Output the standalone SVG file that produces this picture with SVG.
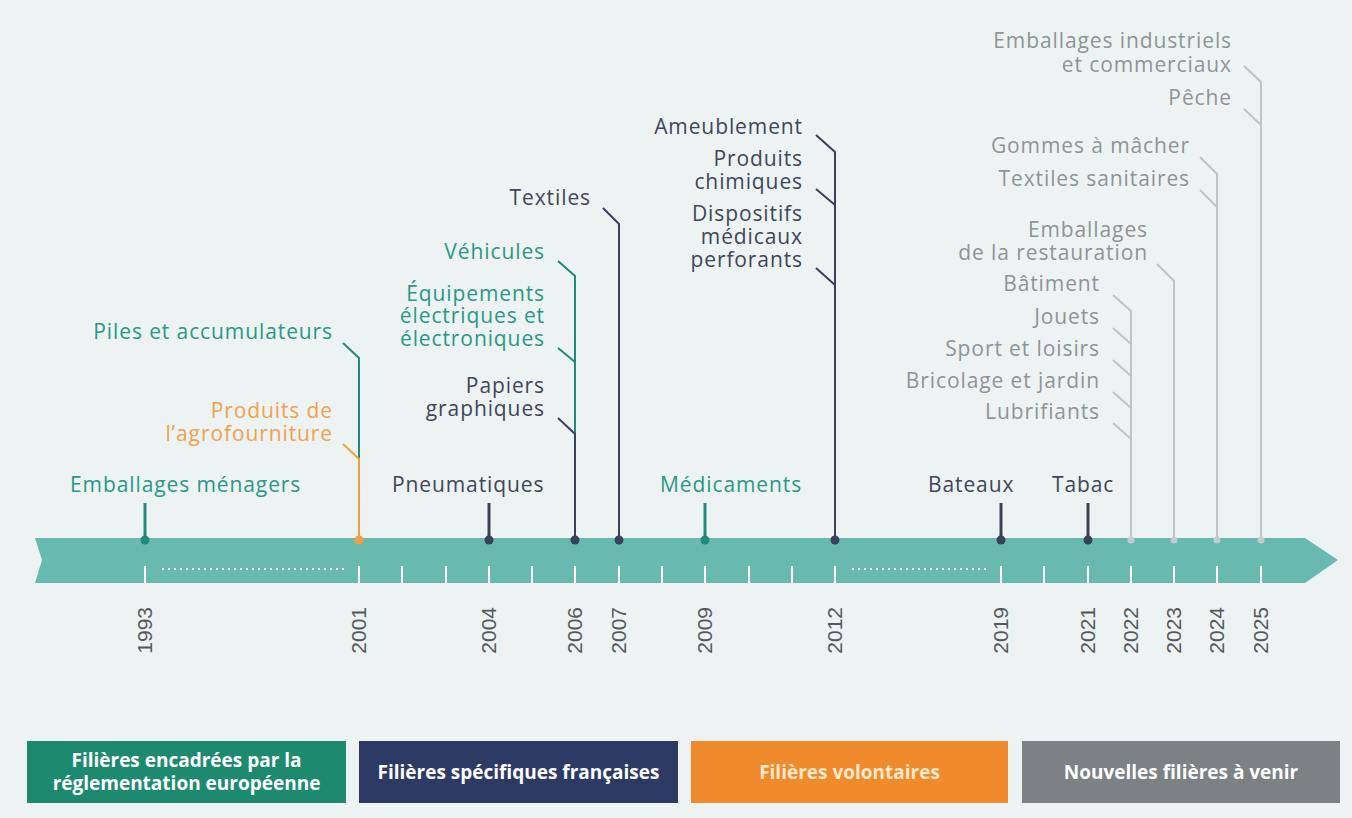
<svg xmlns="http://www.w3.org/2000/svg" width="1352" height="818" viewBox="0 0 1352 818">
<style>
.lbl{font-family:"Open Sans","Noto Sans",sans-serif;font-size:21px;font-weight:500;letter-spacing:0.9px}
.teal{fill:#2a9886}
.navy{fill:#3f4659}
.orng{fill:#f0a24e}
.grey{fill:#8e9497}
.e{text-anchor:end}
.yr{font-family:"Liberation Sans",Arial,sans-serif;font-size:21px;fill:#55595c;text-anchor:end}
.lt{stroke:#1f8b78;stroke-width:2;fill:none}
.ln{stroke:#3a4257;stroke-width:2;fill:none}
.lo{stroke:#f0a040;stroke-width:2;fill:none}
.lg{stroke:#bfc3c5;stroke-width:2;fill:none}
.pin{stroke-width:3}
.tick{stroke:#ffffff;stroke-width:2}
.dots{stroke:#ffffff;stroke-width:2;stroke-dasharray:2 4}
.leg{font-family:"Open Sans","Noto Sans",sans-serif;font-size:19px;font-weight:bold;fill:#ffffff;text-anchor:middle}
</style>
<rect x="0" y="0" width="1352" height="818" fill="#edf3f2"/>

<g id="axis">
<polygon points="35,538 1305,538 1338,560 1305,583 35,583 42,560" fill="#68b9ae"/>
<g>
<line class="tick" x1="145" y1="566" x2="145" y2="583"/>
<line class="tick" x1="359" y1="566" x2="359" y2="583"/>
<line class="tick" x1="402" y1="566" x2="402" y2="583"/>
<line class="tick" x1="446" y1="566" x2="446" y2="583"/>
<line class="tick" x1="489" y1="566" x2="489" y2="583"/>
<line class="tick" x1="532" y1="566" x2="532" y2="583"/>
<line class="tick" x1="575" y1="566" x2="575" y2="583"/>
<line class="tick" x1="619" y1="566" x2="619" y2="583"/>
<line class="tick" x1="662" y1="566" x2="662" y2="583"/>
<line class="tick" x1="705" y1="566" x2="705" y2="583"/>
<line class="tick" x1="749" y1="566" x2="749" y2="583"/>
<line class="tick" x1="792" y1="566" x2="792" y2="583"/>
<line class="tick" x1="835" y1="566" x2="835" y2="583"/>
<line class="tick" x1="1001" y1="566" x2="1001" y2="583"/>
<line class="tick" x1="1044" y1="566" x2="1044" y2="583"/>
<line class="tick" x1="1088" y1="566" x2="1088" y2="583"/>
<line class="tick" x1="1131" y1="566" x2="1131" y2="583"/>
<line class="tick" x1="1174" y1="566" x2="1174" y2="583"/>
<line class="tick" x1="1217" y1="566" x2="1217" y2="583"/>
<line class="tick" x1="1261" y1="566" x2="1261" y2="583"/>
<line class="dots" x1="162" y1="569" x2="346" y2="569"/>
<line class="dots" x1="852" y1="569" x2="986" y2="569"/>
</g>
<g>
<text class="yr" x="152" y="607" transform="rotate(-90 152 607)">1993</text>
<text class="yr" x="366" y="607" transform="rotate(-90 366 607)">2001</text>
<text class="yr" x="496" y="607" transform="rotate(-90 496 607)">2004</text>
<text class="yr" x="582" y="607" transform="rotate(-90 582 607)">2006</text>
<text class="yr" x="626" y="607" transform="rotate(-90 626 607)">2007</text>
<text class="yr" x="712" y="607" transform="rotate(-90 712 607)">2009</text>
<text class="yr" x="842" y="607" transform="rotate(-90 842 607)">2012</text>
<text class="yr" x="1008" y="607" transform="rotate(-90 1008 607)">2019</text>
<text class="yr" x="1095" y="607" transform="rotate(-90 1095 607)">2021</text>
<text class="yr" x="1138" y="607" transform="rotate(-90 1138 607)">2022</text>
<text class="yr" x="1181" y="607" transform="rotate(-90 1181 607)">2023</text>
<text class="yr" x="1224" y="607" transform="rotate(-90 1224 607)">2024</text>
<text class="yr" x="1268" y="607" transform="rotate(-90 1268 607)">2025</text>
</g>
</g>

<g id="connectors">
<!-- 1993 -->
<line class="lt pin" x1="145" y1="503" x2="145" y2="540"/>
<circle cx="145" cy="540" r="4.5" fill="#1f8b78"/>
<!-- 2001 -->
<polyline class="lt" points="343,343 359,358 359,459"/>
<polyline class="lo" points="343,444 359,459 359,540"/>
<circle cx="359" cy="540" r="4.5" fill="#f0a040"/>
<!-- 2004 -->
<line class="ln pin" x1="489" y1="503" x2="489" y2="540"/>
<circle cx="489" cy="540" r="4.5" fill="#3a4257"/>
<!-- 2006 -->
<polyline class="lt" points="558,261 575,276 575,434"/>
<line class="lt" x1="558" y1="348" x2="575" y2="362"/>
<polyline class="ln" points="558,418 575,434 575,540"/>
<circle cx="575" cy="540" r="4.5" fill="#3a4257"/>
<!-- 2007 -->
<polyline class="ln" points="603,208 619,224 619,540"/>
<circle cx="619" cy="540" r="4.5" fill="#3a4257"/>
<!-- 2009 -->
<line class="lt pin" x1="705" y1="503" x2="705" y2="540"/>
<circle cx="705" cy="540" r="4.5" fill="#1f8b78"/>
<!-- 2012 -->
<polyline class="ln" points="816,135 835,152 835,540"/>
<line class="ln" x1="816" y1="189" x2="835" y2="205"/>
<line class="ln" x1="816" y1="268" x2="835" y2="285"/>
<circle cx="835" cy="540" r="4.5" fill="#3a4257"/>
<!-- 2019 -->
<line class="ln pin" x1="1001" y1="503" x2="1001" y2="540"/>
<circle cx="1001" cy="540" r="4.5" fill="#3a4257"/>
<!-- 2021 -->
<line class="ln pin" x1="1088" y1="503" x2="1088" y2="540"/>
<circle cx="1088" cy="540" r="4.5" fill="#3a4257"/>
<!-- 2022 -->
<polyline class="lg" points="1113,295 1131,311 1131,540"/>
<line class="lg" x1="1113" y1="328" x2="1131" y2="344"/>
<line class="lg" x1="1113" y1="360" x2="1131" y2="376"/>
<line class="lg" x1="1113" y1="392" x2="1131" y2="408"/>
<line class="lg" x1="1113" y1="423" x2="1131" y2="439"/>
<circle cx="1131" cy="540" r="3.5" fill="#c6cacc"/>
<!-- 2023 -->
<polyline class="lg" points="1157,264 1174,281 1174,540"/>
<circle cx="1174" cy="540" r="3.5" fill="#c6cacc"/>
<!-- 2024 -->
<polyline class="lg" points="1200,157 1217,174 1217,540"/>
<line class="lg" x1="1200" y1="190" x2="1217" y2="207"/>
<circle cx="1217" cy="540" r="3.5" fill="#c6cacc"/>
<!-- 2025 -->
<polyline class="lg" points="1244,66 1261,82 1261,540"/>
<line class="lg" x1="1244" y1="109" x2="1261" y2="125"/>
<circle cx="1261" cy="540" r="3.5" fill="#c6cacc"/>
</g>

<g id="n1993"><text class="lbl teal" x="70" y="492">Emballages ménagers</text></g>
<g id="n2001-piles"><text class="lbl teal e" x="333" y="339">Piles et accumulateurs</text></g>
<g id="n2001-agro"><text class="lbl orng e" x="333" y="418">Produits de</text><text class="lbl orng e" x="333" y="441">l’agrofourniture</text></g>
<g id="n2004"><text class="lbl navy" x="392" y="492">Pneumatiques</text></g>
<g id="n2006-vehicules"><text class="lbl teal e" x="545" y="259">Véhicules</text></g>
<g id="n2006-deee"><text class="lbl teal e" x="545" y="301">Équipements</text><text class="lbl teal e" x="545" y="323">électriques et</text><text class="lbl teal e" x="545" y="346">électroniques</text></g>
<g id="n2006-papiers"><text class="lbl navy e" x="545" y="393">Papiers</text><text class="lbl navy e" x="545" y="416">graphiques</text></g>
<g id="n2007"><text class="lbl navy e" x="591" y="205">Textiles</text></g>
<g id="n2009"><text class="lbl teal" x="660" y="492">Médicaments</text></g>
<g id="n2012-ameublement"><text class="lbl navy e" x="803" y="134">Ameublement</text></g>
<g id="n2012-chimiques"><text class="lbl navy e" x="803" y="166">Produits</text><text class="lbl navy e" x="803" y="189">chimiques</text></g>
<g id="n2012-dispositifs"><text class="lbl navy e" x="803" y="221">Dispositifs</text><text class="lbl navy e" x="803" y="244">médicaux</text><text class="lbl navy e" x="803" y="267">perforants</text></g>
<g id="n2019"><text class="lbl navy" x="928" y="492">Bateaux</text></g>
<g id="n2021"><text class="lbl navy" x="1052" y="492">Tabac</text></g>
<g id="n2025-emb"><text class="lbl grey e" x="1232" y="48">Emballages industriels</text><text class="lbl grey e" x="1232" y="72">et commerciaux</text></g>
<g id="n2025-peche"><text class="lbl grey e" x="1232" y="105">Pêche</text></g>
<g id="n2024-gommes"><text class="lbl grey e" x="1190" y="153">Gommes à mâcher</text></g>
<g id="n2024-textiles"><text class="lbl grey e" x="1190" y="186">Textiles sanitaires</text></g>
<g id="n2023-resto"><text class="lbl grey e" x="1148" y="237">Emballages</text><text class="lbl grey e" x="1148" y="260">de la restauration</text></g>
<g id="n2022-batiment"><text class="lbl grey e" x="1100" y="291">Bâtiment</text></g>
<g id="n2022-jouets"><text class="lbl grey e" x="1100" y="324">Jouets</text></g>
<g id="n2022-sport"><text class="lbl grey e" x="1100" y="356">Sport et loisirs</text></g>
<g id="n2022-bricolage"><text class="lbl grey e" x="1100" y="388">Bricolage et jardin</text></g>
<g id="n2022-lubrifiants"><text class="lbl grey e" x="1100" y="419">Lubrifiants</text></g>

<g id="legend-eu"><rect x="27" y="741" width="319" height="62" fill="#1d8a70"/><text class="leg" x="186.5" y="767">Filières encadrées par la</text><text class="leg" x="186.5" y="790">réglementation européenne</text></g>
<g id="legend-fr"><rect x="359" y="741" width="319" height="62" fill="#2d3a63"/><text class="leg" x="518.5" y="779">Filières spécifiques françaises</text></g>
<g id="legend-vol"><rect x="691" y="741" width="317" height="62" fill="#ef8b2d"/><text class="leg" x="849.5" y="779" style="fill:#fde8cc">Filières volontaires</text></g>
<g id="legend-new"><rect x="1022" y="741" width="318" height="62" fill="#7c8184"/><text class="leg" x="1181" y="779">Nouvelles filières à venir</text></g>
</svg>
